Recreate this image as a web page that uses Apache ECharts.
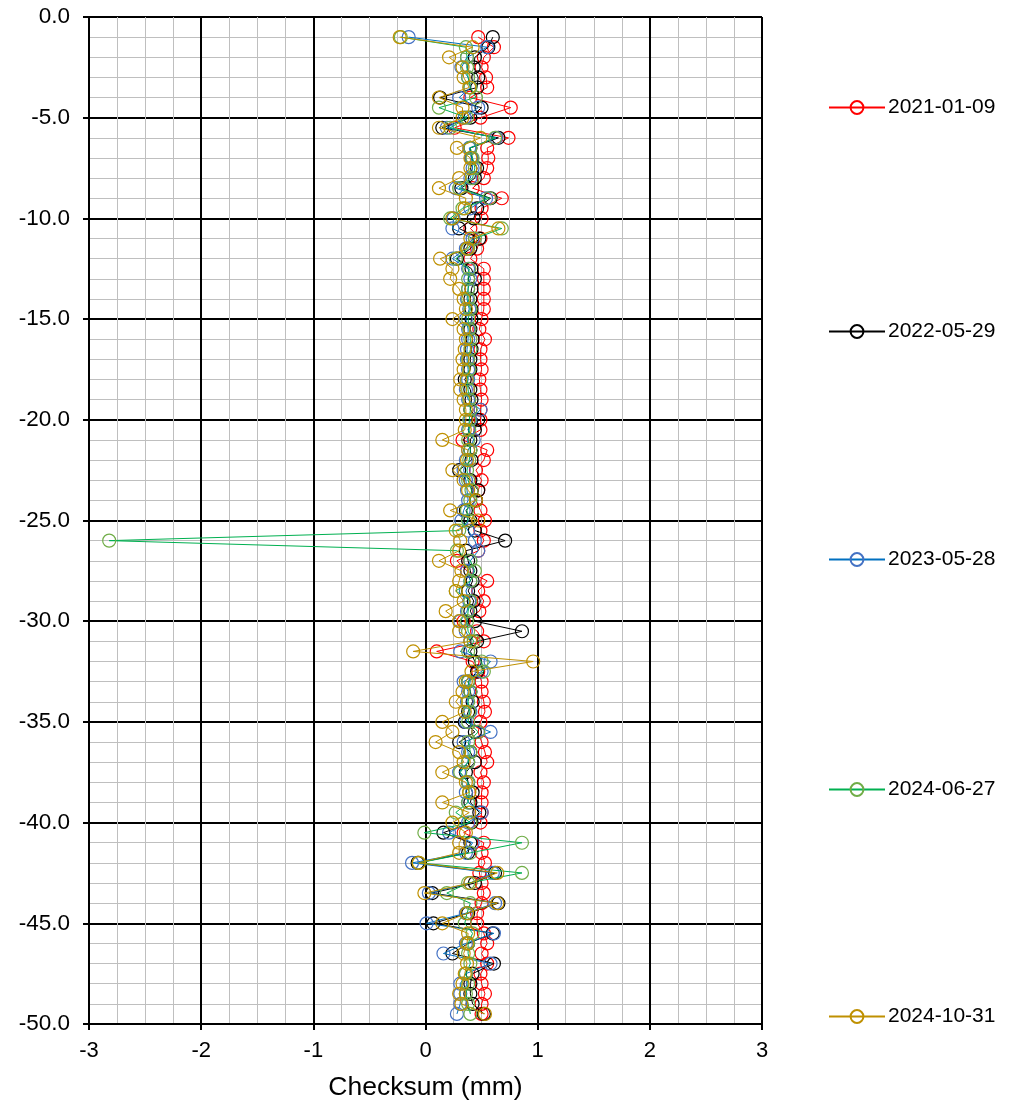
<!DOCTYPE html>
<html>
<head>
<meta charset="utf-8">
<title>Checksum</title>
<script src="https://cdn.jsdelivr.net/npm/echarts@6/dist/echarts.min.js"></script>
<style>
	html, body { margin: 0; padding: 0; background: #fff; }
	#main { width: 1019px; height: 1108px; }
</style>
</head>
<body>
<div id="main"></div>
<script>
// depth -1 .. -49.5, step 0.5
var depths = [];
for (var d = 1; d <= 49.5; d += 0.5) { depths.push(-d); }

var seriesNames = ['2021-01-09', '2022-05-29', '2023-05-28', '2024-06-27', '2024-10-31'];

var red2021 = [
	0.47, 0.61, 0.52, 0.50, 0.54, 0.55, 0.40, 0.76, 0.49, 0.26,
	0.74, 0.55, 0.56, 0.55, 0.52, 0.42, 0.68, 0.50, 0.50, 0.40,
	0.49, 0.46, 0.40, 0.52, 0.52, 0.52, 0.52, 0.52, 0.50, 0.48,
	0.53, 0.49, 0.49, 0.50, 0.48, 0.49, 0.50, 0.49, 0.49, 0.49,
	0.33, 0.55, 0.52, 0.45, 0.50, 0.47, 0.45, 0.49, 0.53, 0.49,
	0.52, 0.47, 0.28, 0.37, 0.55, 0.47, 0.52, 0.48, 0.34, 0.46,
	0.52, 0.10, 0.42, 0.47, 0.50, 0.50, 0.52, 0.53, 0.49, 0.47,
	0.50, 0.53, 0.55, 0.49, 0.52, 0.50, 0.50, 0.50, 0.49, 0.34,
	0.52, 0.50, 0.53, 0.48, 0.50, 0.52, 0.50, 0.46, 0.46, 0.52,
	0.55, 0.50, 0.55, 0.49, 0.50, 0.53, 0.50, 0.50
];
var black2022 = [
	0.60, 0.56, 0.44, 0.43, 0.47, 0.46, 0.13, 0.50, 0.40, 0.15,
	0.65, 0.40, 0.41, 0.46, 0.44, 0.32, 0.58, 0.46, 0.43, 0.30,
	0.48, 0.40, 0.28, 0.41, 0.44, 0.41, 0.40, 0.41, 0.41, 0.40,
	0.42, 0.41, 0.40, 0.40, 0.35, 0.40, 0.41, 0.40, 0.47, 0.44,
	0.40, 0.40, 0.41, 0.30, 0.40, 0.47, 0.45, 0.36, 0.40, 0.44,
	0.71, 0.36, 0.38, 0.40, 0.42, 0.38, 0.43, 0.40, 0.44, 0.86,
	0.46, 0.40, 0.44, 0.46, 0.38, 0.40, 0.42, 0.38, 0.35, 0.44,
	0.30, 0.40, 0.44, 0.36, 0.38, 0.42, 0.40, 0.48, 0.41, 0.16,
	0.40, 0.38, -0.07, 0.62, 0.44, 0.06, 0.65, 0.38, 0.07, 0.60,
	0.38, 0.24, 0.61, 0.42, 0.40, 0.40, 0.42, 0.52
];
var blue2023 = [
	-0.15, 0.55, 0.37, 0.32, 0.38, 0.40, 0.30, 0.47, 0.35, 0.19,
	0.63, 0.39, 0.41, 0.42, 0.40, 0.27, 0.54, 0.40, 0.25, 0.24,
	0.42, 0.36, 0.24, 0.38, 0.40, 0.38, 0.37, 0.39, 0.36, 0.38,
	0.38, 0.37, 0.37, 0.38, 0.38, 0.36, 0.38, 0.49, 0.40, 0.38,
	0.43, 0.38, 0.36, 0.34, 0.36, 0.37, 0.38, 0.34, 0.32, 0.38,
	0.44, 0.47, 0.40, 0.37, 0.40, 0.36, 0.39, 0.37, 0.31, 0.36,
	0.40, 0.31, 0.58, 0.50, 0.34, 0.38, 0.37, 0.40, 0.36, 0.58,
	0.34, 0.38, 0.38, 0.30, 0.38, 0.36, 0.38, 0.50, 0.38, 0.21,
	0.42, 0.36, -0.12, 0.60, 0.40, 0.03, 0.62, 0.36, 0.01, 0.61,
	0.36, 0.16, 0.58, 0.36, 0.31, 0.31, 0.31, 0.28
];
var green2024a = [
	-0.22, 0.36, 0.37, 0.37, 0.38, 0.40, 0.45, 0.12, 0.37, 0.22,
	0.62, 0.40, 0.42, 0.44, 0.42, 0.30, 0.57, 0.33, 0.22, 0.68,
	0.44, 0.38, 0.27, 0.39, 0.38, 0.38, 0.38, 0.40, 0.38, 0.39,
	0.40, 0.40, 0.38, 0.39, 0.37, 0.38, 0.39, 0.40, 0.39, 0.39,
	0.38, 0.40, 0.39, 0.37, 0.38, 0.41, 0.40, 0.37, 0.38, 0.30,
	-2.82, 0.28, 0.40, 0.44, 0.40, 0.27, 0.40, 0.38, 0.37, 0.38,
	0.43, 0.38, 0.50, 0.52, 0.38, 0.40, 0.38, 0.39, 0.38, 0.47,
	0.38, 0.40, 0.38, 0.31, 0.38, 0.39, 0.38, 0.27, 0.40, -0.01,
	0.86, 0.40, -0.06, 0.86, 0.38, 0.19, 0.40, 0.37, 0.35, 0.42,
	0.38, 0.38, 0.40, 0.36, 0.38, 0.36, 0.38, 0.40
];
var gold2024b = [
	-0.23, 0.42, 0.21, 0.33, 0.34, 0.39, 0.12, 0.33, 0.33, 0.12,
	0.49, 0.28, 0.40, 0.40, 0.30, 0.12, 0.36, 0.35, 0.24, 0.65,
	0.40, 0.37, 0.13, 0.24, 0.22, 0.30, 0.34, 0.36, 0.24, 0.34,
	0.36, 0.35, 0.33, 0.34, 0.31, 0.31, 0.34, 0.36, 0.36, 0.35,
	0.15, 0.38, 0.37, 0.24, 0.34, 0.38, 0.45, 0.22, 0.47, 0.27,
	0.31, 0.30, 0.12, 0.32, 0.30, 0.27, 0.34, 0.18, 0.30, 0.30,
	0.40, -0.11, 0.96, 0.41, 0.36, 0.33, 0.27, 0.35, 0.15, 0.24,
	0.09, 0.30, 0.34, 0.15, 0.36, 0.39, 0.15, 0.39, 0.24, 0.36,
	0.30, 0.30, -0.06, 0.64, 0.40, -0.01, 0.64, 0.37, 0.15, 0.38,
	0.37, 0.34, 0.37, 0.35, 0.33, 0.30, 0.32, 0.53
];

var seriesValues = [red2021, black2022, blue2023, green2024a, gold2024b];
var lineColors = ['#FF0000', '#000000', '#0070C0', '#00B050', '#BF9000'];
var markerColors = ['#FF0000', '#000000', '#4472C4', '#70AD47', '#BF9000'];
var legendTops = [97, 321, 549, 779, 1006];

var font = 'Arial, "Liberation Sans", sans-serif';

function buildSeries() {
	return seriesNames.map(function(name, i) {
		var pts = seriesValues[i].map(function(v, j) { return [v, depths[j]]; });
		return {
			name: name,
			type: 'line',
			data: pts,
			symbol: 'circle',
			symbolSize: 13,
			showSymbol: true,
			z: 2 + i,
			lineStyle: { color: lineColors[i], width: 1 },
			itemStyle: { color: 'rgba(0,0,0,0)', borderColor: markerColors[i], borderWidth: 1.2 },
			emphasis: { disabled: true },
			animation: false
		};
	});
}

// one legend per item, so each sits where excel put it
var legends = seriesNames.map(function(name, i) {
	return {
		data: [name],
		left: 828,
		top: legendTops[i],
		padding: 0,
		itemWidth: 56,
		itemHeight: 16,
		itemGap: 4,
		textStyle: { fontFamily: font, fontSize: 21, color: '#000', padding: [0, 0, 0, -2] },
		selectedMode: false
	};
});

var chart = echarts.init(document.getElementById('main'), null, { renderer: 'canvas' });
chart.setOption({
	backgroundColor: '#fff',
	animation: false,
	legend: legends,
	grid: { left: 89, right: 257, top: 17, bottom: 84, containLabel: false },
	xAxis: {
		type: 'value',
		min: -3, max: 3, interval: 1,
		name: 'Checksum (mm)',
		nameLocation: 'middle',
		nameGap: 50,
		nameTextStyle: { fontFamily: font, fontSize: 26.5, color: '#000' },
		axisLine: { show: true, onZero: false, lineStyle: { color: '#000', width: 2 } },
		axisTick: { show: true, inside: false, length: 6, lineStyle: { color: '#000', width: 2 } },
		axisLabel: { fontFamily: font, fontSize: 22, color: '#000', margin: 16 },
		splitLine: { show: true, lineStyle: { color: '#000', width: 2 } },
		minorTick: { show: false, splitNumber: 4 },
		minorSplitLine: { show: true, lineStyle: { color: '#BFBFBF', width: 1 } }
	},
	yAxis: {
		type: 'value',
		min: -50, max: 0, interval: 5,
		axisLine: { show: true, onZero: false, lineStyle: { color: '#000', width: 2 } },
		axisTick: { show: true, inside: false, length: 6, lineStyle: { color: '#000', width: 2 } },
		axisLabel: {
			fontFamily: font, fontSize: 22.5, color: '#000', margin: 19,
			formatter: function(v) { return v.toFixed(1); }
		},
		splitLine: { show: true, lineStyle: { color: '#000', width: 2 } },
		minorTick: { show: false, splitNumber: 5 },
		minorSplitLine: { show: true, lineStyle: { color: '#BFBFBF', width: 1 } }
	},
	series: buildSeries()
});
</script>
</body>
</html>
